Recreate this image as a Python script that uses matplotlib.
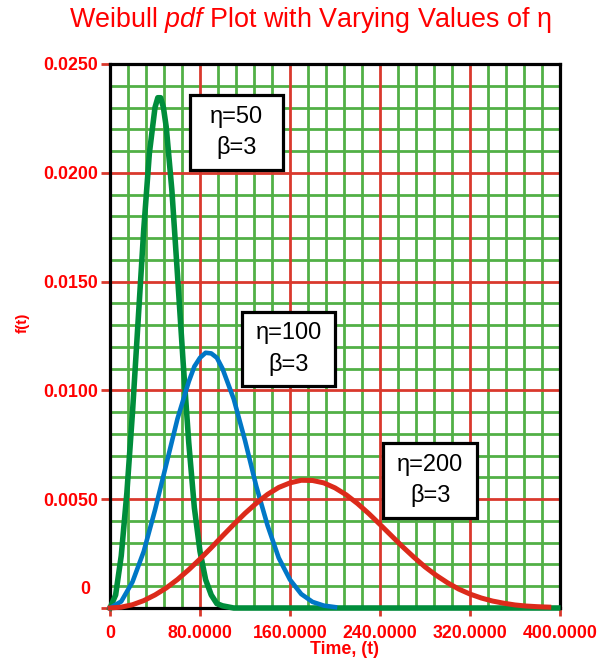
import matplotlib
matplotlib.use("Agg")
import matplotlib.pyplot as plt
from matplotlib.patches import Rectangle
from matplotlib.transforms import ScaledTranslation

plt.rcParams['font.family'] = ['Liberation Sans', 'DejaVu Sans']
plt.rcParams['mathtext.fontset'] = 'custom'
plt.rcParams['mathtext.rm'] = 'Liberation Sans'
plt.rcParams['mathtext.it'] = 'Liberation Sans:italic'

# values
t_eta50 = [0, 5, 10, 15, 20, 25, 30, 35, 40, 42.5, 45, 47.5, 50, 55, 60, 65, 70, 75, 80, 85, 90, 95, 100,
           110, 120, 398]
f_eta50 = [0, 0.0006, 0.0024, 0.0053, 0.0090, 0.0132, 0.0174, 0.0209, 0.0230, 0.02345, 0.02345, 0.0230,
           0.0221, 0.0192, 0.0153, 0.0113, 0.0076, 0.0046, 0.0026, 0.0013, 0.0006, 0.0002, 0.0001,
           0.0, 0.0, 0.0]

t_eta100 = [0, 10, 20, 30, 40, 50, 60, 70, 75, 80, 85, 90, 95, 100, 110, 120, 130, 140, 150, 160, 170,
            180, 190, 200]
f_eta100 = [0, 0.0003, 0.0012, 0.0026, 0.0045, 0.0066, 0.0087, 0.0104, 0.0111, 0.0115, 0.01173, 0.0117,
            0.0115, 0.0110, 0.0096, 0.0077, 0.0056, 0.0038, 0.0023, 0.0013, 0.00064, 0.00028, 0.00011,
            0.00004]

t_eta200 = list(range(0, 400, 10))
f_eta200 = [0, 0.00004, 0.00015, 0.00034, 0.0006, 0.00092, 0.00131, 0.00176, 0.00225, 0.00277,
            0.00331, 0.00384, 0.00435, 0.00481, 0.00522, 0.00554, 0.00575, 0.00587, 0.00586, 0.00575,
            0.00552, 0.0052, 0.0048, 0.00434, 0.00384, 0.00333, 0.00282, 0.00234, 0.00189, 0.0015,
            0.00116, 0.00087, 0.00064, 0.00046, 0.00032, 0.00022, 0.00014, 0.00009, 0.00006, 0.00004]

x_ticks = [0, 80, 160, 240, 320, 400]
x_labels = ["0", "80.0000", "160.0000", "240.0000", "320.0000", "400.0000"]
y_ticks = [0, 0.005, 0.010, 0.015, 0.020, 0.025]
y_labels = ["0", "0.0050", "0.0100", "0.0150", "0.0200", "0.0250"]

box_labels = [("η=50", "β=3"), ("η=100", "β=3"), ("η=200", "β=3")]

RED_TXT = '#FF0000'
RED_GRID = '#D9392D'
GREEN_GRID = '#52B046'

fig = plt.figure(figsize=(6.1, 6.61), dpi=100)
ax = fig.add_axes([110/610, 53/661, 450/610, 544/661])

ax.set_xlim(0, 400)
ax.set_ylim(0, 0.025)

# green minor grid
ax.set_xticks([v for v in range(16, 400, 16) if v % 80], minor=True)
ax.set_yticks([i * 0.001 for i in range(1, 25) if i % 5], minor=True)
ax.grid(which='minor', color=GREEN_GRID, lw=2.0, zorder=0)
ax.tick_params(which='minor', length=0)

# red major grid (drawn on top of the green one)
for xv in x_ticks[1:-1]:
    ax.axvline(xv, color=RED_GRID, lw=2.0, zorder=1)
for yv in y_ticks[1:-1]:
    ax.axhline(yv, color=RED_GRID, lw=2.0, zorder=1)
ax.set_axisbelow(True)

ax.plot(t_eta50, f_eta50, color='#008D3B', lw=4.0, zorder=4, clip_on=False, solid_joinstyle='round')
ax.plot(t_eta100, f_eta100, color='#0077C6', lw=3.3, zorder=4, clip_on=False, solid_joinstyle='round')
ax.plot(t_eta200, f_eta200, color='#DC2A1A', lw=3.6, zorder=4, clip_on=False, solid_joinstyle='round')

for s in ax.spines.values():
    s.set_color('black')
    s.set_linewidth(2.3)

ax.set_xticks(x_ticks)
ax.set_xticklabels(x_labels)
ax.set_yticks(y_ticks)
ax.set_yticklabels(y_labels)
ax.tick_params(axis='x', length=6, width=2.0, color=RED_GRID, pad=6,
               labelsize=12.8, labelcolor=RED_TXT)
ax.tick_params(axis='y', length=6.5, width=2.0, color=RED_GRID, pad=2,
               labelsize=12.8, labelcolor=RED_TXT)
for lab in ax.get_xticklabels() + ax.get_yticklabels():
    lab.set_fontweight('bold')
for tk in (ax.xaxis.get_major_ticks()[0], ax.xaxis.get_major_ticks()[-1],
           ax.yaxis.get_major_ticks()[0], ax.yaxis.get_major_ticks()[-1]):
    tk.tick1line.set_color('black')
# the "0" on the y axis sits a bit above the axis line
zero_lab = ax.get_yticklabels()[0]
zero_lab.set_transform(zero_lab.get_transform() + ScaledTranslation(-8/100, 21/100, fig.dpi_scale_trans))

# boxes with parameter text (axes fraction)
box_pos = [(0.178, 0.805, 0.206, 0.138), (0.293, 0.408, 0.207, 0.137), (0.607, 0.165, 0.209, 0.138)]
for (bx, by, bw, bh), (l1, l2) in zip(box_pos, box_labels):
    ax.add_patch(Rectangle((bx, by), bw, bh, transform=ax.transAxes, facecolor='white',
                           edgecolor='black', lw=2.3, zorder=5))
    cx, cy = bx + bw / 2, by + bh / 2
    ax.text(cx, cy + 0.029, l1, transform=ax.transAxes, ha='center', va='center',
            fontsize=17, color='black', zorder=6)
    ax.text(cx, cy - 0.028, l2, transform=ax.transAxes, ha='center', va='center',
            fontsize=17, color='black', zorder=6)

fig.text(310/610, 1 - 20/661, r"Weibull $\mathit{pdf}$ Plot with Varying Values of η",
         ha='center', va='center', fontsize=19.4, color=RED_TXT)
fig.text(345/610, 1 - 650/661, "Time, (t)", ha='center', va='center',
         fontsize=12.8, fontweight='bold', color=RED_TXT)
fig.text(23/610, 1 - 323/661, "f(t)", ha='center', va='center', rotation=90,
         fontsize=11, fontweight='bold', color=RED_TXT)

fig.savefig("out.png", dpi=100)
